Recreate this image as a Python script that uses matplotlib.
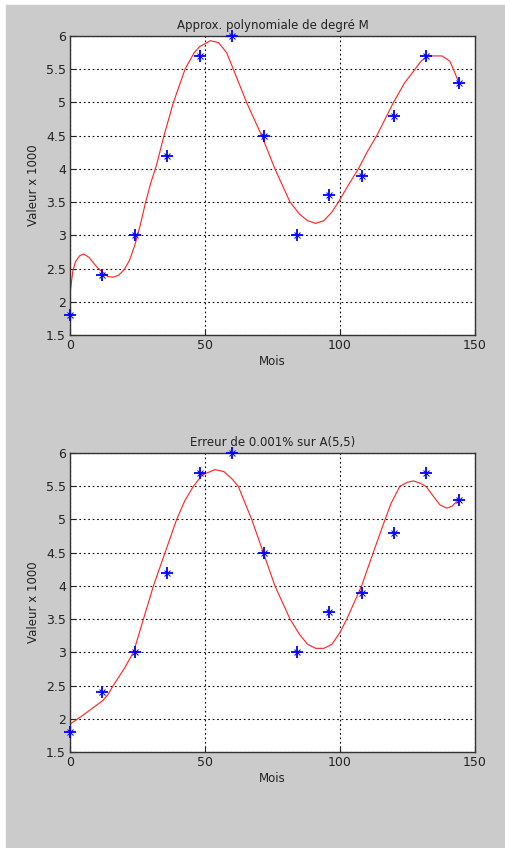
import matplotlib
matplotlib.use('Agg')
import matplotlib.pyplot as plt
from matplotlib.patches import Rectangle

# Données mesurées (mois, valeur x 1000)
mois = [0, 12, 24, 36, 48, 60, 72, 84, 96, 108, 120, 132, 144]
valeurs = [1.8, 2.4, 3.0, 4.2, 5.7, 6.0, 4.5, 3.0, 3.6, 3.9, 4.8, 5.7, 5.3]

# Courbe d'approximation polynomiale
x_approx = [0, 1, 2, 3.5, 5, 7, 10, 12, 14, 16, 18, 20, 22, 24, 26, 28, 30, 32,
            34.8, 38.3, 42.6, 46, 48, 52, 55, 58, 60.5, 65.4, 71, 75.9, 81.5,
            85, 88, 91, 94, 97, 99.4, 103, 106.8, 110, 113.6, 119.8, 124,
            127.8, 130, 132.3, 137.8, 140.7, 142, 144]
y_approx = [2.12, 2.45, 2.6, 2.69, 2.72, 2.67, 2.52, 2.45, 2.38, 2.37, 2.40,
            2.48, 2.62, 2.85, 3.15, 3.5, 3.8, 4.05, 4.5, 5.0, 5.5, 5.75, 5.84,
            5.93, 5.9, 5.75, 5.5, 5.0, 4.5, 4.0, 3.5, 3.32, 3.22, 3.18, 3.22,
            3.35, 3.5, 3.75, 4.0, 4.25, 4.5, 5.0, 5.3, 5.5, 5.62, 5.7, 5.7,
            5.62, 5.5, 5.3]

# Courbe avec erreur de 0.001% sur A(5,5)
x_erreur = [0, 4, 8, 12, 14, 16, 20, 23.5, 27.2, 30.9, 35.2, 39.5, 42.5, 45.7,
            49, 53.7, 57, 60, 62.3, 67.3, 71.6, 75.9, 81.5, 85, 88, 91, 94,
            97, 100, 102.5, 108, 112.3, 116.7, 119, 122.2, 125, 127.2, 130,
            132, 134, 137, 139.5, 141.5, 144]
y_erreur = [1.92, 2.03, 2.15, 2.27, 2.36, 2.5, 2.75, 3.0, 3.5, 4.0, 4.5, 5.0,
            5.28, 5.5, 5.67, 5.75, 5.72, 5.61, 5.5, 5.0, 4.5, 4.0, 3.5, 3.27,
            3.12, 3.06, 3.06, 3.12, 3.3, 3.5, 4.0, 4.5, 5.0, 5.25, 5.5, 5.56,
            5.58, 5.54, 5.49, 5.38, 5.22, 5.17, 5.2, 5.3]

W, H = 505, 848
fig = plt.figure(figsize=(W / 100, H / 100), dpi=100, facecolor='white')
fig.patches.append(Rectangle((6 / W, 0), 1 - 6 / W, 1 - 5 / H,
                             transform=fig.transFigure, color='#cbcbcb', zorder=-10))

def panneau(top_px, x_c, y_c, titre):
    left, right, bottom = 70, 475, top_px + 299
    ax = fig.add_axes([left / W, 1 - bottom / H, (right - left) / W, 299 / H])
    ax.plot(x_c, y_c, color='#ff2020', lw=0.8)
    ax.plot(mois, valeurs, linestyle='none', marker='+', color='blue',
            ms=8, mew=1.3, clip_on=False, zorder=5)
    ax.plot(mois, valeurs, linestyle='none', marker='x', color='blue',
            ms=4.5, mew=0.7, clip_on=False, zorder=5)
    ax.set_xlim(0, 150)
    ax.set_ylim(1.5, 6)
    ax.set_xticks([0, 50, 100, 150])
    ax.set_yticks([1.5, 2, 2.5, 3, 3.5, 4, 4.5, 5, 5.5, 6])
    ax.set_yticklabels(['1.5', '2', '2.5', '3', '3.5', '4', '4.5', '5', '5.5', '6'])
    ax.grid(True, color='black', linestyle=(0, (1.5, 2.5)), lw=0.8)
    ax.tick_params(direction='in', length=4, labelsize=9, colors='#222222', pad=3)
    for s in ax.spines.values():
        s.set_color('#333333')
        s.set_linewidth(1.0)
    ax.set_title(titre, fontsize=8.5, color='#222222', pad=5)
    ax.set_xlabel('Mois', fontsize=8.5, color='#222222', labelpad=2)
    ax.set_ylabel('Valeur x 1000', fontsize=8.5, color='#222222', labelpad=4)
    return ax

panneau(36, x_approx, y_approx, 'Approx. polynomiale de degré M')
panneau(453, x_erreur, y_erreur, 'Erreur de 0.001% sur A(5,5)')

fig.savefig('out.png', dpi=100, facecolor=fig.get_facecolor())
